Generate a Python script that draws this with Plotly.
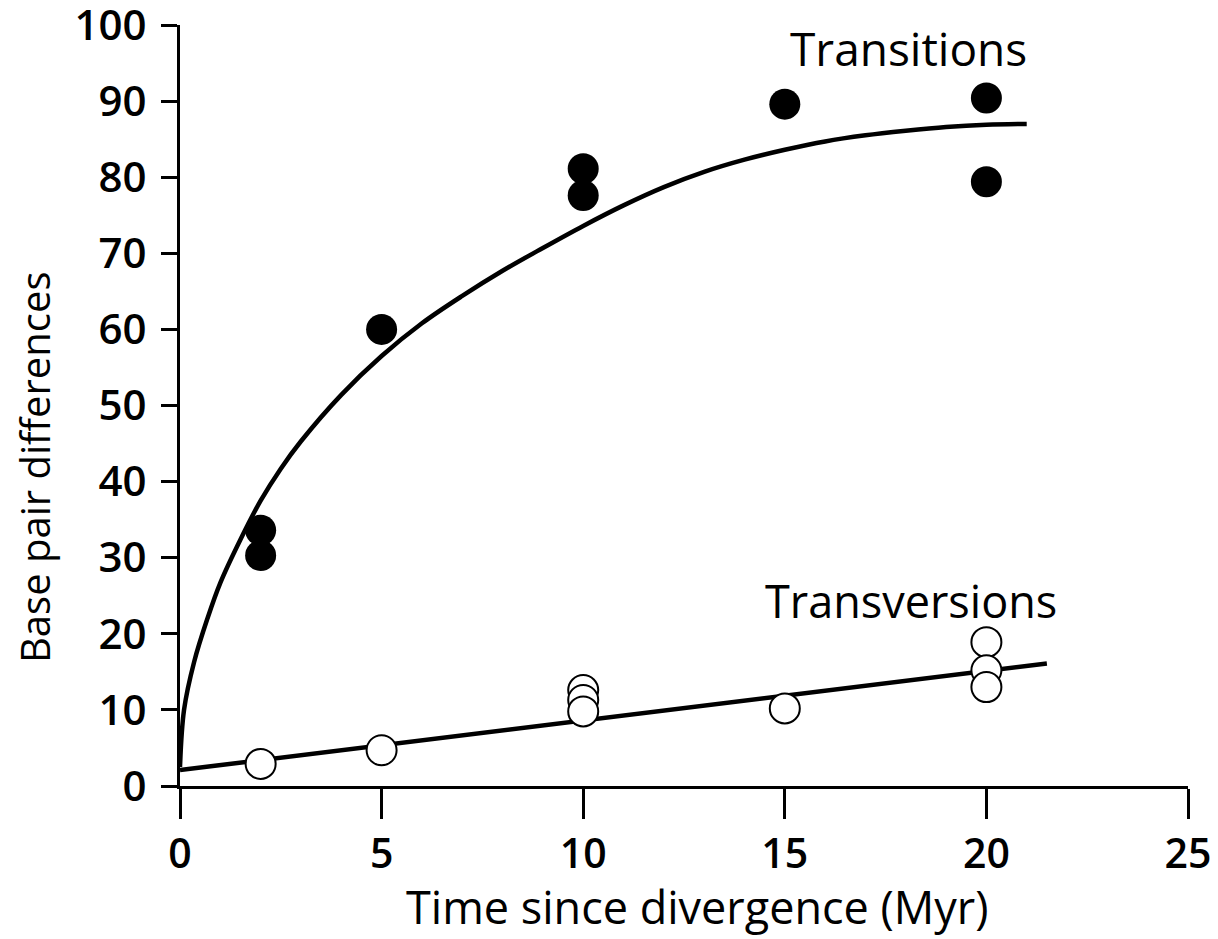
import plotly.graph_objects as go

# Data
ts_x = [2, 2, 5, 10, 10, 15, 20, 20]
ts_y = [33.6, 30.3, 60.0, 81.1, 77.6, 89.6, 90.4, 79.4]

tv_x = [2, 5, 10, 10, 10, 15, 20, 20, 20]
tv_y = [2.9, 4.7, 12.6, 11.3, 9.8, 10.2, 18.9, 15.2, 13.0]

# fitted transition curve
curve_x = [0, 0.1, 0.35, 0.68, 1, 1.5, 2, 2.5, 3, 4, 5, 6, 7, 8, 9, 10, 11, 12, 13, 14, 15, 16, 17, 18, 19, 20, 21]
curve_y = [2.5, 10.0, 16.3, 22.0, 26.7, 32.4, 37.5, 41.7, 45.3, 51.4, 56.5, 60.8, 64.4, 67.7, 70.7, 73.6, 76.3, 78.7, 80.7, 82.3, 83.6, 84.7, 85.5, 86.1, 86.6, 86.9, 87.0]

# fitted transversion line
line_x = [0, 21.5]
line_y = [2.1, 16.1]

x_ticks = [0, 5, 10, 15, 20, 25]
y_ticks = [0, 10, 20, 30, 40, 50, 60, 70, 80, 90, 100]

FONT = "Open Sans"

fig = go.Figure()
fig.add_trace(go.Scatter(x=curve_x, y=curve_y, mode="lines", line=dict(color="black", width=4.5, shape="spline", smoothing=1.0), showlegend=False))
fig.add_trace(go.Scatter(x=line_x, y=line_y, mode="lines", line=dict(color="black", width=4.5), showlegend=False))
fig.add_trace(go.Scatter(x=ts_x, y=ts_y, mode="markers", marker=dict(size=31, color="black", line=dict(width=0)), showlegend=False))
fig.add_trace(go.Scatter(x=tv_x, y=tv_y, mode="markers", marker=dict(size=30, color="white", line=dict(width=2, color="black")), showlegend=False))

fig.add_annotation(x=18.06, y=97.0, text="Transitions", showarrow=False, font=dict(family=FONT, size=46, color="black"))
fig.add_annotation(x=18.12, y=24.4, text="Transversions", showarrow=False, font=dict(family=FONT, size=45, color="black"))

# axis titles
fig.add_annotation(xref="paper", yref="paper", x=0.513, y=-0.159, xanchor="center", yanchor="middle", borderpad=0,
                   text="Time since divergence (Myr)", showarrow=False, font=dict(family=FONT, size=45, color="black"))
fig.add_annotation(xref="paper", yref="paper", x=-0.145, y=0.419, xanchor="center", yanchor="middle", textangle=-90,
                   text="Base pair differences", showarrow=False, font=dict(family=FONT, size=40, color="black"))

# page body has an 8px margin, so the figure is sized/offset accordingly
fig.update_layout(
    width=1210, height=931,
    margin=dict(l=172, r=30, t=17, b=153),
    plot_bgcolor="white", paper_bgcolor="white",
    font=dict(family=FONT, color="black"),
)
fig.update_xaxes(
    range=[0, 25], tickvals=x_ticks, ticktext=[str(v) for v in x_ticks],
    showgrid=False, zeroline=False, showline=True, linecolor="black", linewidth=3,
    ticks="outside", ticklen=30, tickwidth=2.5, tickcolor="black",
    tickfont=dict(family=FONT, size=41, color="black", weight=600),
    ticklabeloverflow="allow",
    automargin=False,
)
fig.update_yaxes(
    range=[0, 100], tickvals=y_ticks, ticktext=[str(v) for v in y_ticks],
    showgrid=False, zeroline=False, showline=True, linecolor="black", linewidth=3,
    ticks="outside", ticklen=16, tickwidth=2.5, tickcolor="black",
    tickfont=dict(family=FONT, size=42, color="black", weight=600),
    ticklabelstandoff=6, ticklabeloverflow="allow",
    automargin=False,
)

fig.write_html("out.html")
